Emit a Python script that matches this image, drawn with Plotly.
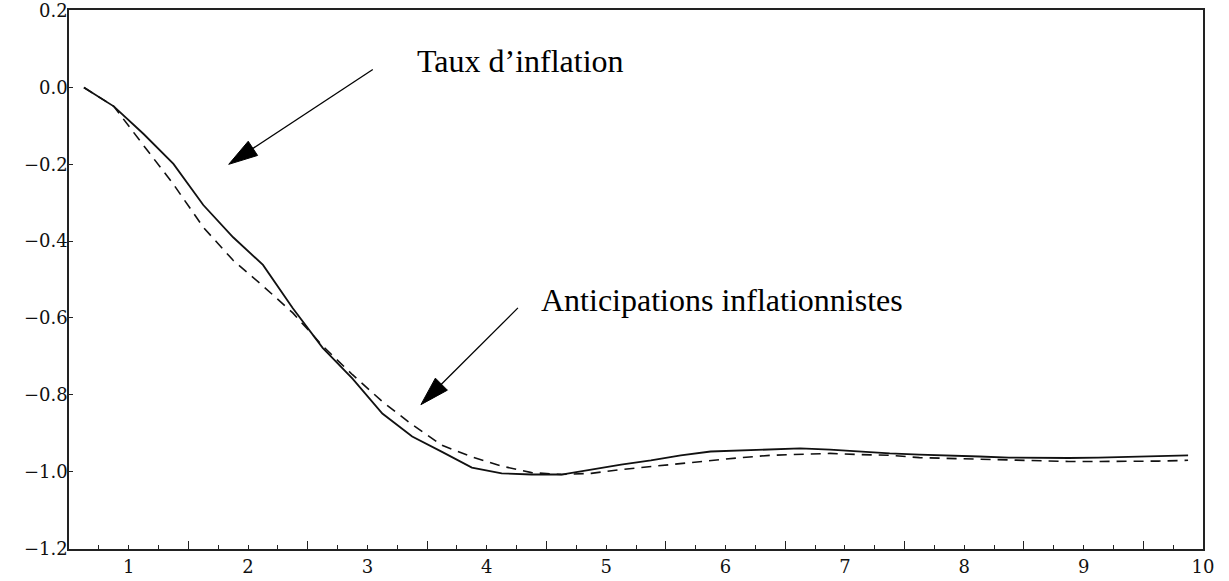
import plotly.graph_objects as go

# ---- data ----
x_start = 0.625
x_step = 0.25
inflation = [0.0, -0.049, -0.121, -0.199, -0.306, -0.390, -0.462, -0.575, -0.678, -0.758,
             -0.849, -0.909, -0.949, -0.990, -1.005, -1.008, -1.008, -0.995, -0.982, -0.971,
             -0.958, -0.948, -0.945, -0.943, -0.940, -0.943, -0.948, -0.953, -0.956, -0.958,
             -0.961, -0.964, -0.965, -0.965, -0.964, -0.962, -0.961, -0.958]
anticipations = [0.0, -0.049, -0.151, -0.252, -0.364, -0.450, -0.517, -0.587, -0.673, -0.748,
                 -0.818, -0.878, -0.932, -0.962, -0.986, -1.003, -1.008, -1.005, -0.995, -0.987,
                 -0.979, -0.971, -0.964, -0.958, -0.956, -0.953, -0.956, -0.958, -0.964, -0.966,
                 -0.969, -0.971, -0.973, -0.974, -0.974, -0.974, -0.973, -0.971]
x_vals = [x_start + x_step * i for i in range(len(inflation))]

x_tick_vals = list(range(1, 11))
x_tick_text = [str(v) for v in x_tick_vals]
x_half_ticks = [k + 0.5 for k in range(0, 10)]
y_tick_vals = [0.2, 0.0, -0.2, -0.4, -0.6, -0.8, -1.0, -1.2]
y_tick_text = ["0.2", "0.0", "\u22120.2", "\u22120.4", "\u22120.6", "\u22120.8", "\u22121.0", "\u22121.2"]

label_inflation = "Taux d\u2019inflation"
label_anticip = "Anticipations inflationnistes"

# ---- layout geometry ----
W, H = 1229, 581
ML, MR, MT, MB = 69, 26, 10, 32
XR = [0.5, 10.0]
YR = [-1.2, 0.2]
sx = (W - ML - MR) / (XR[1] - XR[0])
sy = (H - MT - MB) / (YR[1] - YR[0])

fig = go.Figure()
fig.add_trace(go.Scatter(x=x_vals, y=inflation, mode="lines",
                         line=dict(color="#111111", width=1.8), xaxis="x", yaxis="y",
                         showlegend=False, hoverinfo="skip"))
fig.add_trace(go.Scatter(x=x_vals, y=anticipations, mode="lines",
                         line=dict(color="#111111", width=1.6, dash="10px,7px"),
                         xaxis="x2", yaxis="y", showlegend=False, hoverinfo="skip"))

tick_font = dict(family="DejaVu Serif", size=18, color="#111111")
fig.update_layout(
    width=W, height=H,
    margin=dict(l=ML, r=MR, t=MT, b=MB, autoexpand=False),
    paper_bgcolor="white", plot_bgcolor="white",
    xaxis=dict(range=XR, tickvals=x_tick_vals, ticktext=x_tick_text, automargin=False,
               ticks="inside", ticklen=4, tickwidth=1.2, tickcolor="#222222",
               minor=dict(dtick=0.25, tick0=0.5, ticks="inside", ticklen=4,
                          tickwidth=1.2, tickcolor="#222222", showgrid=False),
               showgrid=False, zeroline=False, showline=True, mirror=True,
               linecolor="#222222", linewidth=1.5, tickfont=tick_font, ticklabelstandoff=1,
               ticklabeloverflow="allow"),
    xaxis2=dict(range=XR, overlaying="x", side="bottom", anchor="y", automargin=False,
                tickvals=x_half_ticks, showticklabels=False,
                ticks="inside", ticklen=8, tickwidth=1.2, tickcolor="#222222",
                showgrid=False, zeroline=False, showline=False),
    yaxis=dict(range=[YR[0] - 0.002, YR[1] + 0.002], tickvals=y_tick_vals,
               ticktext=y_tick_text, automargin=False,
               ticks="inside", ticklen=4, tickwidth=1.2, tickcolor="#222222",
               showgrid=False, zeroline=False, showline=True, mirror=True,
               linecolor="#222222", linewidth=1.5, tickfont=tick_font, ticklabelstandoff=-4,
               ticklabeloverflow="allow"),
)

text_font = dict(family="Liberation Serif", size=32, color="#000000")
fig.add_annotation(x=1 + (414 - 128) / sx, y=(87 - 60) / sy, xref="x", yref="y",
                   text=label_inflation, showarrow=False, xanchor="left",
                   yanchor="middle", font=text_font)
fig.add_annotation(x=1 + (538 - 128) / sx, y=(87 - 300) / sy, xref="x", yref="y",
                   text=label_anticip, showarrow=False, xanchor="left",
                   yanchor="middle", font=text_font)

# arrows: (tail, tip) in data coordinates
arrows = [((3.045, 0.047), (1.838, -0.200)),
          ((4.261, -0.574), (3.448, -0.826))]
head_len, head_half = 29, 8.5
for (tx, ty), (hx, hy) in arrows:
    dx = (hx - tx) * sx
    dy = -(hy - ty) * sy
    L = (dx * dx + dy * dy) ** 0.5
    ux, uy = dx / L, dy / L
    bx, by = -head_len * ux, -head_len * uy
    c1 = (bx - head_half * uy, by + head_half * ux)
    c2 = (bx + head_half * uy, by - head_half * ux)
    fig.add_shape(type="line", xref="x", yref="y", x0=tx, y0=ty,
                  x1=hx + bx / sx * 0.9, y1=hy - by / sy * 0.9,
                  line=dict(color="#000000", width=1.3))
    path = "M 0 0 L {:.2f} {:.2f} L {:.2f} {:.2f} Z".format(c1[0], -c1[1], c2[0], -c2[1])
    fig.add_shape(type="path", xref="x", yref="y", xsizemode="pixel", ysizemode="pixel",
                  xanchor=hx, yanchor=hy, path=path,
                  fillcolor="#000000", line=dict(color="#000000", width=1))

fig.write_html("out.html")
